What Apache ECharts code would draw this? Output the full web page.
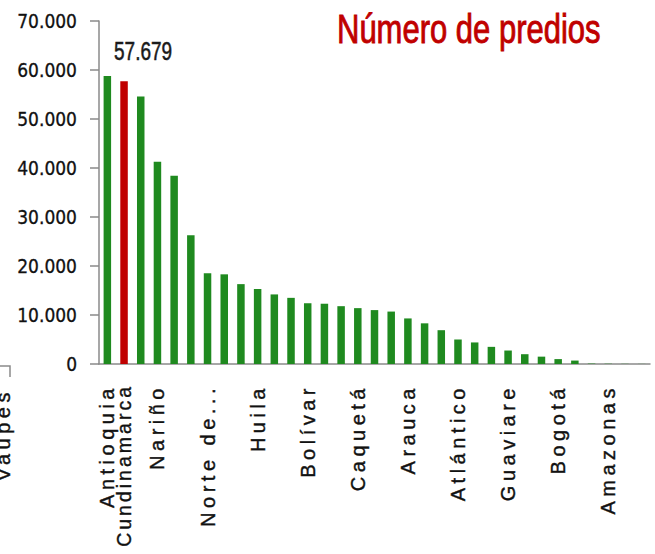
<!DOCTYPE html>
<html>
<head>
<meta charset="utf-8">
<script src="https://cdn.jsdelivr.net/npm/echarts@6/dist/echarts.min.js"></script>
<style>
  html, body { margin: 0; padding: 0; background: #fff; }
  #chart { width: 655px; height: 554px; }
  /* etiquetas del eje x con letras espaciadas, como en el original */
  #chart text[style*="Liberation Sans"] { letter-spacing: 3px; }
  #chart text[style*="Arimo"] { letter-spacing: 4.5px; }
</style>
</head>
<body>
<div id="chart"></div>
<script>
// departamentos ordenados por número de predios
var departamentos = [
  'Antioquia', 'Cundinamarca', 'Boyacá', 'Nariño', 'Santander', 'Tolima',
  'Norte de Santander', 'Cauca', 'Valle del Cauca', 'Huila', 'Caldas', 'Córdoba',
  'Bolívar', 'Meta', 'Risaralda', 'Caquetá', 'Cesar', 'Quindío',
  'Arauca', 'Magdalena', 'Sucre', 'Atlántico', 'Putumayo', 'Casanare',
  'Guaviare', 'Chocó', 'La Guajira', 'Bogotá', 'Vichada', 'Guainía',
  'Amazonas', 'San Andrés', 'Vaupés'
]
var predios = [
  58800, 57679, 54600, 41300, 38400, 26300,
  18500, 18300, 16300, 15300, 14200, 13500,
  12400, 12300, 11800, 11400, 11000, 10700,
  9300, 8300, 6900, 5000, 4400, 3500,
  2750, 2000, 1500, 1000, 700, 80,
  50, 30, 20
]
var destacado = 'Cundinamarca'
var yMax = 70000
var yPaso = 10000

var verde = '#1f8a1f'
var rojo = '#c00000'
var gris = '#8a8a8a'
var tinta = '#111'
var fuenteEje = "'Liberation Sans', Arimo, sans-serif"

function miles(v) {
  return String(v).replace(/\B(?=(\d{3})+(?!\d))/g, '.')
}

var chart = echarts.init(document.getElementById('chart'), null, { renderer: 'svg' })

var barras = predios.map(function (v, i) {
  if (departamentos[i] === destacado) {
    return { value: v, itemStyle: { color: rojo } }
  }
  return v
})

chart.setOption({
  animation: false,
  backgroundColor: '#fff',
  grid: {
    left: 99,
    right: 5,
    top: 21,
    bottom: 190,
    containLabel: false,
    outerBoundsMode: 'none'
  },
  xAxis: {
    type: 'category',
    data: departamentos,
    axisLine: { lineStyle: { color: gris, width: 1.5 } },
    axisTick: { interval: 0, length: 9, lineStyle: { color: gris, width: 1.5 } },
    axisLabel: {
      interval: 0,
      rotate: 90,
      margin: 20,
      fontFamily: fuenteEje,
      fontSize: 20,
      color: tinta,
      textBorderColor: tinta,
      textBorderWidth: 0.4,
      formatter: function (name, idx) {
        if (name === destacado) return '{largo|' + name + '}'
        if (idx % 3 !== 0) return ''
        if (name.length > 14) return name.slice(0, 8) + '...'
        return name
      },
      rich: {
        largo: {
          fontFamily: "'Liberation Sans', sans-serif",
          fontSize: 19.5,
          color: tinta,
          textBorderColor: tinta,
          textBorderWidth: 0.4
        }
      }
    }
  },
  yAxis: {
    type: 'value',
    min: 0,
    max: yMax,
    interval: yPaso,
    splitLine: { show: false },
    axisLine: { show: true, lineStyle: { color: gris, width: 1.5 } },
    axisTick: { show: true, length: 9, lineStyle: { color: gris, width: 1.5 } },
    axisLabel: {
      margin: 22,
      fontFamily: "'DejaVu Sans Condensed', 'DejaVu Sans', sans-serif",
      fontSize: 19,
      color: tinta,
      textBorderColor: tinta,
      textBorderWidth: 0.3,
      formatter: function (v) { return miles(v) }
    }
  },
  series: [{
    name: 'Número de predios',
    type: 'bar',
    data: barras,
    barWidth: 7.5,
    itemStyle: { color: verde }
  }]
})

// etiqueta del valor destacado, colocada sobre la barra roja
var iDest = departamentos.indexOf(destacado)
var tope = chart.convertToPixel({ seriesIndex: 0 }, [iDest, predios[iDest]])

chart.setOption({
  graphic: [
    {
      type: 'text',
      x: 337,
      y: 9,
      scaleY: 1.3,
      style: {
        text: 'Número de predios',
        fontFamily: 'Arial, sans-serif',
        fontSize: 31,
        fill: rojo,
        stroke: rojo,
        lineWidth: 0.7,
        align: 'left',
        verticalAlign: 'top'
      }
    },
    {
      type: 'text',
      x: tope[0] + 19,
      y: tope[1] - 17,
      scaleY: 1.38,
      originY: 0,
      style: {
        text: miles(predios[iDest]),
        fontFamily: 'Arial, sans-serif',
        fontSize: 19,
        fill: '#1a1a1a',
        stroke: '#1a1a1a',
        lineWidth: 0.4,
        align: 'center',
        verticalAlign: 'bottom'
      }
    },
    {
      type: 'text',
      x: 13,
      y: 388,
      rotation: Math.PI / 2,
      style: {
        text: 'Vaupés',
        fontFamily: fuenteEje,
        fontSize: 20,
        fill: tinta,
        stroke: tinta,
        lineWidth: 0.4,
        align: 'right',
        verticalAlign: 'bottom'
      }
    },
    {
      type: 'polyline',
      shape: { points: [[0, 366], [10, 366], [10, 377]] },
      style: { stroke: gris, lineWidth: 1.5, fill: null }
    }
  ]
})
</script>
</body>
</html>
